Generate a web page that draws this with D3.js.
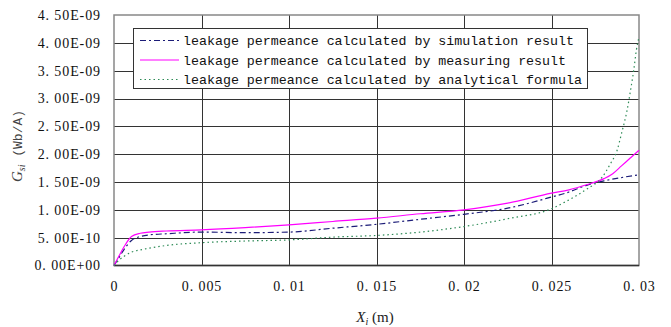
<!DOCTYPE html>
<html>
<head>
  <meta charset="utf-8">
  <title>leakage permeance</title>
  <style>
  body { margin: 0; background: #fff; }
  .grid line { stroke: #333; stroke-width: 1px; shape-rendering: crispEdges; }
  .tick text { font-family: "Liberation Serif", serif; font-size: 14px; letter-spacing: 0.9px; fill: #111; }
  .legend text { font-family: "Liberation Mono", monospace; font-size: 13.3px; fill: #111; }
  .series { fill: none; stroke-width: 1.2px; }
  </style>
</head>
<body>
  <svg width="671" height="327"></svg>
  <script src="https://d3js.org/d3.v7.min.js"></script>
  <script>
  // data (values in 1e-9 Wb/A)
  var simX = [0, 0.0003, 0.0006, 0.001, 0.0015, 0.002, 0.003, 0.005, 0.0075, 0.01, 0.0125, 0.015, 0.0175, 0.02, 0.0225, 0.025, 0.026, 0.027, 0.028, 0.029, 0.03];
  var simY = [0, 0.15, 0.3, 0.45, 0.52, 0.55, 0.57, 0.60, 0.59, 0.60, 0.67, 0.74, 0.83, 0.92, 1.03, 1.23, 1.32, 1.44, 1.52, 1.58, 1.63];

  var measX = [0, 0.0003, 0.0006, 0.001, 0.0015, 0.002, 0.003, 0.005, 0.0075, 0.01, 0.0125, 0.015, 0.0175, 0.02, 0.0225, 0.025, 0.026, 0.027, 0.028, 0.0285, 0.029, 0.0295, 0.03];
  var measY = [0, 0.18, 0.35, 0.52, 0.58, 0.60, 0.62, 0.64, 0.68, 0.73, 0.79, 0.85, 0.93, 1.0, 1.12, 1.30, 1.36, 1.45, 1.56, 1.65, 1.79, 1.93, 2.07];

  var anaX = [0, 0.0003, 0.0006, 0.001, 0.0015, 0.002, 0.003, 0.005, 0.0075, 0.01, 0.0125, 0.015, 0.0175, 0.02, 0.0225, 0.025, 0.026, 0.027, 0.0279, 0.02837, 0.02875, 0.029, 0.02932, 0.02955, 0.0297, 0.02985, 0.03];
  var anaY = [0, 0.1, 0.17, 0.24, 0.28, 0.31, 0.36, 0.41, 0.44, 0.46, 0.51, 0.54, 0.60, 0.70, 0.84, 1.02, 1.18, 1.37, 1.59, 1.83, 2.07, 2.37, 2.79, 3.21, 3.51, 3.87, 4.10];

  var xTicks = [0, 0.005, 0.01, 0.015, 0.02, 0.025, 0.03];
  var xLabels = ["0", "0. 005", "0. 01", "0. 015", "0. 02", "0. 025", "0. 03"];
  var yTicks = [0, 0.5, 1.0, 1.5, 2.0, 2.5, 3.0, 3.5, 4.0, 4.5];
  var yLabels = ["0. 00E+00", "5. 00E-10", "1. 00E-09", "1. 50E-09", "2. 00E-09", "2. 50E-09", "3. 00E-09", "3. 50E-09", "4. 00E-09", "4. 50E-09"];

  var names = ["leakage permeance calculated by simulation result",
               "leakage permeance calculated by measuring result",
               "leakage permeance calculated by analytical formula"];
  var colors = ["#1c1c78", "#ff00ff", "#2e8b57"];
  var dashes = ["6,3,2,3", null, "1.5,3"];

  var svg = d3.select("svg");
  var pLeft = 114, pRight = 639, pTop = 15, pBottom = 265.5;

  var x = d3.scaleLinear().domain([0, 0.03]).range([pLeft, pRight]);
  var y = d3.scaleLinear().domain([0, 4.5]).range([pBottom, pTop]);

  // grid
  var g = svg.append("g").attr("class", "grid");
  g.selectAll(".h").data(yTicks.slice(1, -1)).enter().append("line")
    .attr("x1", pLeft).attr("x2", pRight)
    .attr("y1", function(d) { return Math.round(y(d)) + 0.5; })
    .attr("y2", function(d) { return Math.round(y(d)) + 0.5; });
  g.selectAll(".v").data(xTicks.slice(1, -1)).enter().append("line")
    .attr("y1", pTop).attr("y2", pBottom)
    .attr("x1", function(d) { return Math.round(x(d)) + 0.5; })
    .attr("x2", function(d) { return Math.round(x(d)) + 0.5; });

  // frame
  svg.append("rect")
    .attr("x", pLeft).attr("y", pTop)
    .attr("width", pRight - pLeft).attr("height", pBottom - pTop)
    .attr("fill", "none").attr("stroke", "#888").attr("stroke-width", 1.5);
  svg.append("line")
    .attr("x1", pLeft).attr("x2", pRight).attr("y1", pBottom).attr("y2", pBottom)
    .attr("stroke", "#333").attr("stroke-width", 1.5);

  // axes (labels only)
  var yAxis = svg.append("g").attr("transform", "translate(" + pLeft + ",0)")
    .call(d3.axisLeft(y).tickValues(yTicks).tickSize(0).tickPadding(13)
      .tickFormat(function(d, i) { return yLabels[i]; }));
  yAxis.select(".domain").remove();

  var xAxis = svg.append("g").attr("transform", "translate(0," + pBottom + ")")
    .call(d3.axisBottom(x).tickValues(xTicks).tickSize(0).tickPadding(16)
      .tickFormat(function(d, i) { return xLabels[i]; }));
  xAxis.select(".domain").remove();

  // series
  var series = [[simX, simY], [measX, measY], [anaX, anaY]];
  var line = d3.line()
    .x(function(d) { return x(d[0]); })
    .y(function(d) { return y(d[1]); })
    .curve(d3.curveMonotoneX);

  series.forEach(function(s, i) {
    var pts = s[0].map(function(v, j) { return [v, s[1][j]]; });
    svg.append("path")
      .attr("class", "series")
      .attr("d", line(pts))
      .attr("stroke", colors[i])
      .attr("stroke-dasharray", dashes[i]);
  });

  // legend
  var lg = svg.append("g").attr("class", "legend");
  lg.append("rect")
    .attr("x", 133.5).attr("y", 28.5).attr("width", 454).attr("height", 60)
    .attr("fill", "#fff").attr("stroke", "#333").attr("stroke-width", 1);
  names.forEach(function(n, i) {
    var yy = 40.5 + i * 19.5;
    lg.append("line")
      .attr("x1", 140).attr("x2", 179).attr("y1", yy).attr("y2", yy)
      .attr("stroke", colors[i]).attr("stroke-width", 1.2)
      .attr("stroke-dasharray", dashes[i]);
    lg.append("text")
      .attr("x", 183).attr("y", yy).attr("dy", "0.35em")
      .text(n);
  });

  // axis titles
  var yt = svg.append("text")
    .attr("transform", "translate(22,146) rotate(-90)")
    .attr("text-anchor", "middle")
    .attr("fill", "#444")
    .attr("font-size", "15px")
    .attr("font-family", "Liberation Serif, serif");
  yt.append("tspan").attr("font-style", "italic").text("G");
  yt.append("tspan").attr("font-style", "italic").attr("font-size", "10px").attr("dy", 3).text("si");
  yt.append("tspan").attr("dy", -3).attr("font-family", "Liberation Mono, monospace").attr("font-size", "13px").text(" (Wb/A)");

  var xt = svg.append("text")
    .attr("x", 375).attr("y", 322)
    .attr("text-anchor", "middle")
    .attr("fill", "#222")
    .attr("font-size", "15px")
    .attr("font-family", "Liberation Serif, serif");
  xt.append("tspan").attr("font-style", "italic").text("X");
  xt.append("tspan").attr("font-style", "italic").attr("font-size", "10px").attr("dy", 3).text("i");
  xt.append("tspan").attr("dy", -3).text(" (m)");
  </script>
</body>
</html>
